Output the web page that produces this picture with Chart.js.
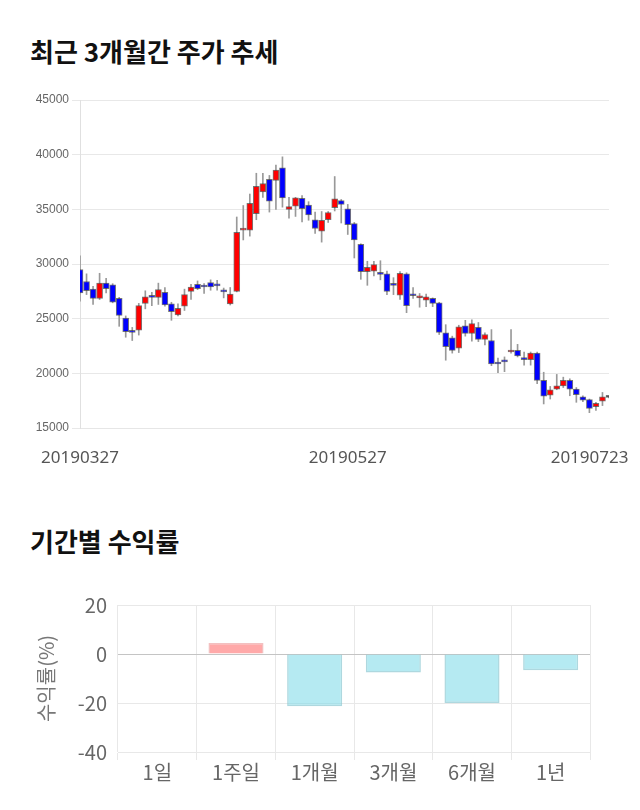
<!DOCTYPE html>
<html>
<head>
<meta charset="utf-8">
<script src="https://cdn.jsdelivr.net/npm/chart.js@4"></script>
<style>
body{margin:0;background:#fff;width:640px;height:810px;position:relative;overflow:hidden;font-family:"Noto Sans CJK KR",sans-serif}
h2{position:absolute;left:30px;margin:0;font-size:26px;line-height:26px;font-weight:bold;color:#111}
#t1{top:38px}
#t2{top:528px}
.box{position:absolute;left:0;width:640px}
#b1{top:80px;height:400px}
#b2{top:582px;height:218px}
</style>
</head>
<body>
<h2 id="t1">최근 3개월간 주가 추세</h2>
<div class="box" id="b1"><canvas id="c1"></canvas></div>
<h2 id="t2">기간별 수익률</h2>
<div class="box" id="b2"><canvas id="c2"></canvas></div>
<script>
// trading days, 2019-03-27 .. 2019-07-23
var days = [
  "20190327","20190328","20190329",
  "20190401","20190402","20190403","20190404","20190405","20190408","20190409","20190410","20190411","20190412",
  "20190415","20190416","20190417","20190418","20190419","20190422","20190423","20190424","20190425","20190426",
  "20190429","20190430",
  "20190502","20190503","20190507","20190508","20190509","20190510","20190513","20190514","20190515","20190516",
  "20190517","20190520","20190521","20190522","20190523","20190524","20190527","20190528","20190529","20190530",
  "20190531",
  "20190603","20190604","20190605","20190607","20190610","20190611","20190612","20190613","20190614","20190617",
  "20190618","20190619","20190620","20190621","20190624","20190625","20190626","20190627","20190628",
  "20190701","20190702","20190703","20190704","20190705","20190708","20190709","20190710","20190711","20190712",
  "20190715","20190716","20190717","20190718","20190719","20190722","20190723"
];
var opens = [29500,28400,27700,26850,28250,28100,26850,25050,23800,23950,26400,27000,26950,27400,26350,25350,26150,27500,28150,27950,
  28300,28050,27600,26350,27500,33100,33100,34600,36600,37750,37650,38800,35000,35300,36000,35400,34050,33000,34050,35150,
  35800,35050,33700,31800,29300,29350,29200,29100,28200,27150,29100,27150,26900,26700,26850,26450,23700,23250,22300,24350,
  23650,24200,23100,23000,20900,21150,21950,22100,21300,21250,21850,19350,18000,18550,18850,19350,18550,17850,17600,16950,
  17450,17800];
var highs = [30750,29100,27950,29150,28700,28200,26950,25250,24200,26400,27550,27400,28250,27850,26500,26350,27700,28150,28450,28200,
  28550,28500,27800,27850,34300,35350,36400,38300,38300,38100,39050,39800,36100,36100,36250,35700,34750,34800,34800,38000,
  35900,35450,33800,31850,30250,30250,30300,29350,28750,29300,29200,27850,27300,27250,26900,26500,24450,23400,24400,24850,
  24900,24650,23700,24000,21400,21500,24000,22650,21950,21950,21950,20100,18800,19900,19650,19500,18700,17950,17650,17350,
  18250,17850];
var lows = [26600,27200,26300,26750,27350,26450,24300,23300,23000,23500,25900,26200,26300,26150,24850,25250,25750,26750,27650,27300,
  27600,27600,26900,26250,27450,32200,32550,34050,36100,34750,35000,35200,34200,34350,33850,34000,32800,32000,33800,34850,
  33750,32700,30550,28600,28050,28900,28550,27200,27200,26750,25550,26850,26050,26100,26100,23550,21200,21850,21900,23400,
  22950,22900,22600,20700,20050,20150,21850,21500,20750,20750,19050,17200,17650,18500,18700,17950,17350,17400,16400,16600,
  17050,17750];
var closes = [27350,27550,26850,28250,27750,26500,25300,23800,23750,26200,27000,26950,27650,26250,25650,25950,27200,27900,27750,27900,
  27900,28000,27450,27250,32900,33150,35550,37100,37350,35750,38600,36050,35250,36050,35050,34500,33250,34000,34700,35950,
  35450,33600,32200,29300,29700,29950,29050,27500,28050,29150,26200,27100,27100,27000,26400,23750,22450,22100,24250,23650,
  24550,23100,23550,20850,20850,21050,22100,21600,21250,21850,19350,17900,18500,18850,19350,18550,18050,17550,16800,17250,
  17850,17800];
var shownDays = [0, 41, 81];

var periods = ["1일","1주일","1개월","3개월","6개월","1년"];
var returns = [0, 4.5, -21.3, -7.6, -20.0, -6.6];

var bodies = days.map((d, i) => [opens[i], closes[i]]);
var wicks = days.map((d, i) => [lows[i], highs[i]]);
var bodyColors = days.map((d, i) => closes[i] > opens[i] ? '#ff0000' : (closes[i] < opens[i] ? '#0000ff' : '#333'));

new Chart(document.getElementById('c1'), {
  type: 'bar',
  data: {
    labels: days,
    datasets: [
      {
        data: bodies,
        backgroundColor: bodyColors,
        borderColor: 'rgba(60,60,60,0.7)',
        borderWidth: 1,
        borderSkipped: false,
        barThickness: 6,
        minBarLength: 2,
        grouped: false,
        order: 0
      },
      {
        data: wicks,
        backgroundColor: '#999',
        barThickness: 1,
        grouped: false,
        order: 1
      }
    ]
  },
  options: {
    responsive: true,
    maintainAspectRatio: false,
    animation: false,
    layout: { padding: { top: 20 } },
    plugins: { legend: { display: false }, tooltip: { enabled: false } },
    scales: {
      x: {
        offset: false,
        grid: { display: false },
        border: { color: '#e6e6e6' },
        ticks: {
          autoSkip: false,
          maxRotation: 0,
          padding: 12,
          color: '#555',
          font: { family: 'Noto Sans', size: 17 },
          callback: function (v, i) {
            if (!shownDays.includes(i)) return '';
            return i === days.length - 1 ? days[i] + '\u2007\u2007\u2007\u2007' : days[i];
          }
        },
        afterFit: function (s) { s.height = 52; s.paddingRight = 31; }
      },
      y: {
        min: 15000,
        max: 45000,
        ticks: { stepSize: 5000, color: '#666', padding: 3, font: { family: 'Arial', size: 12 }, callback: v => String(v) },
        grid: { color: '#e8e8e8', tickLength: 8 },
        border: { color: '#e0e0e0' },
        afterFit: function (s) { s.width = 80; }
      }
    }
  }
});

var tickFont = { family: 'Noto Sans CJK KR', size: 20 };

new Chart(document.getElementById('c2'), {
  type: 'bar',
  data: {
    labels: periods,
    datasets: [{
      data: returns,
      backgroundColor: returns.map(v => v >= 0 ? 'rgba(255,99,99,0.55)' : 'rgba(120,216,232,0.55)'),
      borderColor: returns.map(v => v >= 0 ? 'rgba(235,150,150,0.6)' : 'rgba(140,200,210,0.7)'),
      borderWidth: 1.5,
      barPercentage: 0.7,
      categoryPercentage: 1
    }]
  },
  options: {
    responsive: true,
    maintainAspectRatio: false,
    animation: false,
    layout: { padding: { top: 17, right: 50 } },
    plugins: { legend: { display: false }, tooltip: { enabled: false } },
    scales: {
      x: {
        grid: { color: '#e8e8e8', tickLength: 8, offset: true },
        border: { color: '#e8e8e8' },
        ticks: { color: '#666', padding: 0, font: tickFont },
        afterFit: function (s) { s.height = 48; }
      },
      y: {
        min: -40,
        max: 20,
        ticks: { stepSize: 20, color: '#666', padding: 11, font: tickFont },
        grid: { drawTicks: false, color: c => c.tick && c.tick.value === 0 ? '#c4c4c4' : '#e8e8e8' },
        border: { display: false },
        title: { display: true, text: '수익률(%)', color: '#777', font: tickFont, padding: { top: 34, bottom: 0 } },
        afterFit: function (s) { s.width = 118; }
      }
    }
  }
});
</script>
</body>
</html>
